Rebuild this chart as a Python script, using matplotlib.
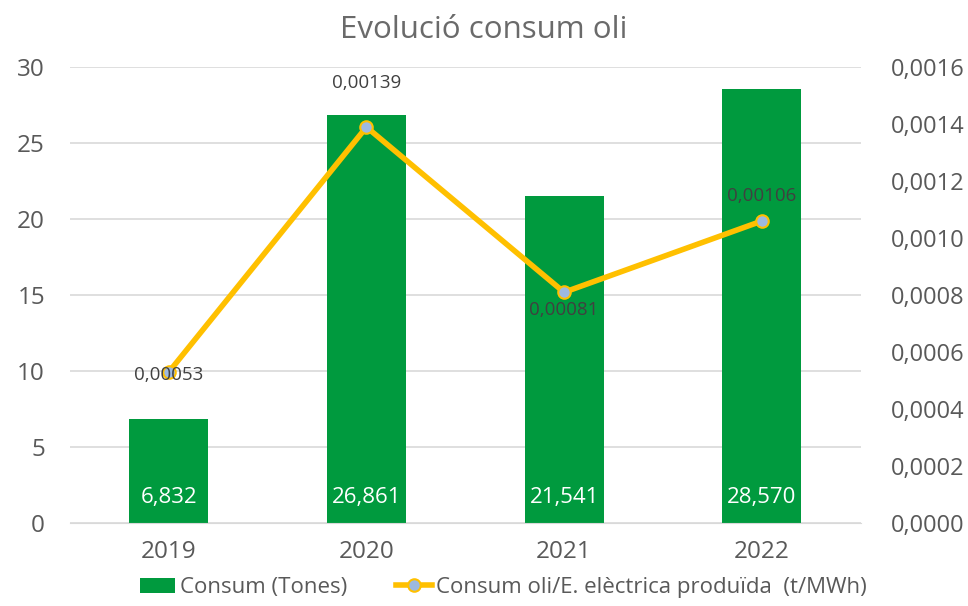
import numpy as np
import matplotlib.pyplot as plt

years = ['2019', '2020', '2021', '2022']
consum = [6.832, 26.861, 21.541, 28.570]
ratio = [0.00053, 0.00139, 0.00081, 0.00106]
bar_labels = ['6,832', '26,861', '21,541', '28,570']
ratio_labels = ['0,00053', '0,00139', '0,00081', '0,00106']

plt.rcParams['font.family'] = ['Open Sans', 'DejaVu Sans']
grey = '#595959'

fig = plt.figure(figsize=(9.68, 6.06), dpi=100)
ax = fig.add_axes([0.0723, 0.137, 0.8167, 0.752])
ax2 = ax.twinx()

x = np.arange(len(years))
bars = ax.bar(x, consum, width=0.4, color='#009A3E', zorder=2, label='Consum (Tones)')
ax.set_xlim(-0.5, 3.5)
ax.set_ylim(0, 30)
ax.set_yticks(range(0, 31, 5))
ax.grid(axis='y', color='#D9D9D9', linewidth=1.2, zorder=0)
ax.set_axisbelow(True)
ax.set_xticks(x)
ax.set_xticklabels(years)
for s in ['top', 'right', 'left']:
    ax.spines[s].set_visible(False)
ax.spines['bottom'].set_color('#D9D9D9')
ax.tick_params(axis='both', length=0, labelsize=17.5, colors=grey, pad=18)
ax.tick_params(axis='x', pad=12)

for xi, lab in zip(x, bar_labels):
    ax.text(xi, 1.7, lab, ha='center', va='center', color='white', fontsize=16)

line, = ax2.plot(x, ratio, color='#FFC000', linewidth=4, marker='o', markersize=9,
                 markerfacecolor='#9DB9E0', markeredgecolor='#FFC000', markeredgewidth=1.5,
                 zorder=3, label='Consum oli/E. elèctrica produïda  (t/MWh)')
ax2.set_ylim(0, 0.0016)
ax2.set_yticks(np.arange(0, 0.00161, 0.0002))
ax2.set_yticklabels([('%.4f' % v).replace('.', ',') for v in np.arange(0, 0.00161, 0.0002)])
for s in ax2.spines.values():
    s.set_visible(False)
ax2.tick_params(axis='y', length=0, labelsize=17, colors=grey, pad=22)

offsets = [-3, 44, -18, 25]
for xi, v, lab, off in zip(x, ratio, ratio_labels, offsets):
    ax2.annotate(lab, (xi, v), xytext=(0, off), textcoords='offset pixels',
                 ha='center', va='center', fontsize=13.5, color='#404040')

fig.suptitle('Evolució consum oli', y=0.975, fontsize=22.5, color='#6A6A6A')
fig.legend(handles=[bars, line], loc='lower center', bbox_to_anchor=(0.52, -0.02),
           ncol=2, frameon=False, fontsize=16, labelcolor=grey,
           handlelength=1.6, columnspacing=2.2, handletextpad=0.2)

fig.savefig('out.png', dpi=100)
